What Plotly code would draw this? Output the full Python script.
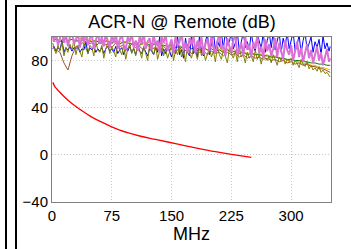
import plotly.graph_objects as go

FREQ_FINE = [1, 2.5, 5, 7.5, 10, 12.5, 15, 17.5, 20, 22.5,
             25, 27.5, 30, 32.5, 35, 37.5, 40, 42.5, 45, 47.5,
             50, 52.5, 55, 57.5, 60, 62.5, 65, 67.5, 70, 72.5,
             75, 77.5, 80, 82.5, 85, 87.5, 90, 92.5, 95, 97.5,
             100, 102.5, 105, 107.5, 110, 112.5, 115, 117.5, 120, 122.5,
             125, 127.5, 130, 132.5, 135, 137.5, 140, 142.5, 145, 147.5,
             150, 152.5, 155, 157.5, 160, 162.5, 165, 167.5, 170, 172.5,
             175, 177.5, 180, 182.5, 185, 187.5, 190, 192.5, 195, 197.5,
             200, 202.5, 205, 207.5, 210, 212.5, 215, 217.5, 220, 222.5,
             225, 227.5, 230, 232.5, 235, 237.5, 240, 242.5, 245, 247.5,
             250, 252.5, 255, 257.5, 260, 262.5, 265, 267.5, 270, 272.5,
             275, 277.5, 280, 282.5, 285, 287.5, 290, 292.5, 295, 297.5,
             300, 302.5, 305, 307.5, 310, 312.5, 315, 317.5, 320, 322.5,
             325, 327.5, 330, 332.5, 335, 337.5, 340, 342.5, 345, 347.5,
             349]

FREQ_COARSE = [1, 5, 10, 15, 20, 25, 30, 35, 40, 45, 50, 55, 60, 65, 70, 75, 80, 85, 90, 95,
               100, 105, 110, 115, 120, 125, 130, 135, 140, 145, 150, 155, 160, 165, 170, 175,
               180, 185, 190, 195, 200, 205, 210, 215, 220, 225, 230, 235, 240, 245, 250, 255,
               260, 265, 270, 275, 280, 285, 290, 295, 300, 305, 310, 315, 320, 325, 330, 335,
               340, 345, 349]

PAIR_ORANGE = [98, 96, 99, 95, 97, 98, 96, 99, 97, 95,
               98, 96, 97, 95, 98, 94, 97, 96, 95, 97,
               94, 96, 95, 93, 96, 94, 95, 92, 95, 93,
               94, 92, 93, 91, 94, 90, 93, 91, 92, 89,
               92, 90, 91, 88, 90, 89, 89, 87, 88, 86,
               87, 85, 86, 84, 85, 83, 84, 82, 82, 80,
               81, 79, 79, 77, 78, 76, 76, 74, 74, 73, 72]

PAIR_GREEN = [97, 98, 96, 99, 97, 98, 97, 96, 98, 97,
              96, 97, 95, 97, 96, 95, 96, 94, 96, 95,
              94, 95, 93, 95, 94, 93, 94, 92, 93, 92,
              93, 91, 92, 90, 92, 90, 91, 89, 91, 89,
              90, 88, 89, 87, 89, 87, 88, 86, 87, 85,
              86, 85, 85, 84, 84, 83, 83, 82, 82, 81,
              81, 80, 80, 79, 79, 78, 78, 77, 77, 76, 76]

PAIR_BROWN = [92, 89, 87, 78, 72, 84, 92, 93, 96, 94,
              95, 92, 96, 93, 94, 91, 95, 92, 93, 90,
              94, 91, 92, 89, 93, 90, 91, 88, 92, 89,
              90, 87, 91, 88, 89, 86, 90, 87, 88, 85,
              88, 86, 87, 84, 87, 85, 86, 83, 85, 82,
              84, 82, 83, 81, 82, 80, 81, 79, 80, 78,
              79, 77, 78, 76, 77, 75, 75, 73, 73, 71, 70]

PAIR_OLIVE = [95, 90, 86, 93, 88, 96, 84, 91, 87, 94,
              89, 97, 85, 92, 88, 83, 95, 90, 86, 93,
              91, 84, 96, 89, 87, 93, 82, 90, 95, 86,
              92, 88, 83, 96, 89, 85, 93, 81, 90, 94,
              86, 91, 84, 95, 88, 82, 92, 87, 80, 94,
              89, 85, 93, 81, 88, 96, 84, 90, 82, 87,
              93, 80, 89, 85, 92, 83, 88, 79, 94, 86,
              82, 90, 87, 81, 93, 84, 89, 80, 86, 91,
              83, 88, 79, 92, 85, 81, 89, 84, 78, 90,
              86, 82, 88, 79, 91, 83, 85, 78, 87, 82,
              84, 79, 89, 81, 85, 77, 86, 82, 80, 84,
              78, 85, 81, 76, 83, 80, 84, 77, 81, 79,
              82, 76, 80, 78, 74, 81, 77, 75, 79, 73,
              76, 72, 74, 71, 75, 70, 72, 69, 70, 67,
              66]

PAIR_BLUE = [90, 92, 88, 91, 89, 97, 87, 91, 89, 92,
             88, 91, 90, 92, 87, 90, 89, 96, 86, 91,
             89, 92, 87, 90, 88, 91, 86, 90, 92, 88,
             90, 87, 92, 86, 89, 91, 85, 90, 88, 92,
             87, 90, 85, 92, 88, 86, 91, 87, 84, 90,
             88, 85, 91, 87, 100, 84, 90, 86, 92, 88,
             83, 90, 86, 101, 85, 89, 82, 99, 87, 84,
             102, 86, 89, 83, 101, 87, 84, 96, 103, 85,
             95, 104, 89, 97, 92, 104, 90, 105, 93, 96,
             104, 90, 95, 104, 88, 98, 104, 91, 96, 89,
             104, 92, 88, 103, 95, 90, 104, 87, 97, 104,
             91, 104, 89, 95, 104, 87, 99, 92, 104, 90,
             96, 104, 88, 93, 102, 86, 97, 104, 89, 94,
             100, 87, 96, 91, 98, 85, 101, 90, 95, 88,
             92]

PAIR_ORCHID = [101, 96, 104, 93, 99, 105, 95, 102, 92, 100,
               104, 94, 98, 103, 91, 101, 96, 105, 93, 99,
               102, 90, 97, 104, 94, 100, 92, 103, 96, 91,
               101, 95, 104, 90, 98, 102, 93, 89, 100, 96,
               103, 91, 97, 88, 101, 94, 104, 90, 96, 99,
               89, 102, 93, 97, 87, 100, 95, 103, 88, 94,
               98, 86, 101, 92, 96, 104, 89, 95, 87, 99,
               93, 102, 86, 97, 90, 100, 85, 94, 98, 88,
               101, 91, 86, 96, 103, 89, 93, 84, 99, 92,
               87, 97, 102, 85, 91, 95, 84, 100, 89, 93,
               83, 96, 90, 101, 86, 92, 82, 98, 88, 94,
               84, 90, 99, 83, 95, 87, 81, 97, 89, 85,
               93, 80, 88, 96, 83, 91, 79, 86, 94, 82,
               89, 78, 85, 92, 80, 87, 76, 84, 90, 79,
               82]

LIMIT_FREQ = [1, 4, 8, 15, 25, 35, 50, 65, 85, 110, 130, 155, 180, 205, 225, 250]
LIMIT_DB = [61.5, 57.5, 54.5, 49.5, 43.5, 38.6, 32, 27, 21, 16, 13.1, 9.5, 6.0, 2.7, 0.4, -2.2]

X_TICKS = [0, 75, 150, 225, 300]
Y_TICKS = [-40, 0, 40, 80]

FONT = "Liberation Sans, Arial, sans-serif"

fig = go.Figure()
series = [
    (FREQ_COARSE, PAIR_ORANGE, "#ffa500", 1),
    (FREQ_COARSE, PAIR_GREEN, "#008000", 1),
    (FREQ_FINE, PAIR_BLUE, "#0000ff", 1),
    (FREQ_COARSE, PAIR_BROWN, "#a0522d", 1),
    (FREQ_FINE, PAIR_OLIVE, "#808000", 1),
    (FREQ_FINE, PAIR_ORCHID, "#da70d6", 2),
]
for fx, vals, col, lw in series:
    fig.add_trace(go.Scatter(x=fx, y=vals, mode="lines",
                             line=dict(color=col, width=lw), hoverinfo="skip"))

fig.add_trace(go.Scatter(x=LIMIT_FREQ, y=LIMIT_DB, mode="lines",
                         line=dict(color="#ff0000", width=1.3, shape="spline"),
                         hoverinfo="skip"))

L, R, T, B = 52, 20, 37, 47
W, H = 351, 249
pw, ph = W - L - R, H - T - B


def px_x(p):
    return (p - L) / pw


def px_y(p):
    return (H - B - p) / ph


shapes = [
    dict(type="line", xref="paper", yref="paper", x0=px_x(6), x1=px_x(6),
         y0=px_y(0), y1=px_y(H), line=dict(color="black", width=2)),
    dict(type="line", xref="paper", yref="paper", x0=px_x(16), x1=px_x(16),
         y0=px_y(5), y1=px_y(H), line=dict(color="black", width=2)),
    dict(type="line", xref="paper", yref="paper", x0=px_x(15), x1=px_x(W),
         y0=px_y(6), y1=px_y(6), line=dict(color="black", width=2)),
]

fig.update_layout(
    width=W, height=H,
    margin=dict(l=L, r=R, t=T, b=B, pad=0, autoexpand=False),
    paper_bgcolor="white", plot_bgcolor="white",
    showlegend=False,
    font=dict(family=FONT, color="black", size=15),
    title=dict(text="ACR-N @ Remote (dB)", font=dict(family=FONT, size=18, color="black"),
               x=182 / W, xanchor="center", xref="container",
               y=1 - 21.5 / H, yanchor="middle", yref="container"),
    shapes=shapes,
)
fig.update_xaxes(range=[0, 350], tickvals=X_TICKS, ticks="", showline=True,
                 linecolor="#808080", linewidth=1, mirror=True, automargin=False,
                 showgrid=True, gridcolor="#c8c8c8", griddash="1px,2px", gridwidth=1,
                 zeroline=False, tickfont=dict(size=15),
                 title=dict(text="MHz", font=dict(size=18), standoff=4))
fig.update_yaxes(range=[-40, 100], tickvals=Y_TICKS, ticks="", showline=True,
                 linecolor="#808080", linewidth=1, mirror=True, automargin=False,
                 showgrid=True, gridcolor="#c8c8c8", griddash="1px,2px", gridwidth=1,
                 zeroline=False, tickfont=dict(size=15))

fig.write_html("out.html", config={"displayModeBar": False},
               post_script="document.body.style.margin='0';document.body.style.padding='0';")
